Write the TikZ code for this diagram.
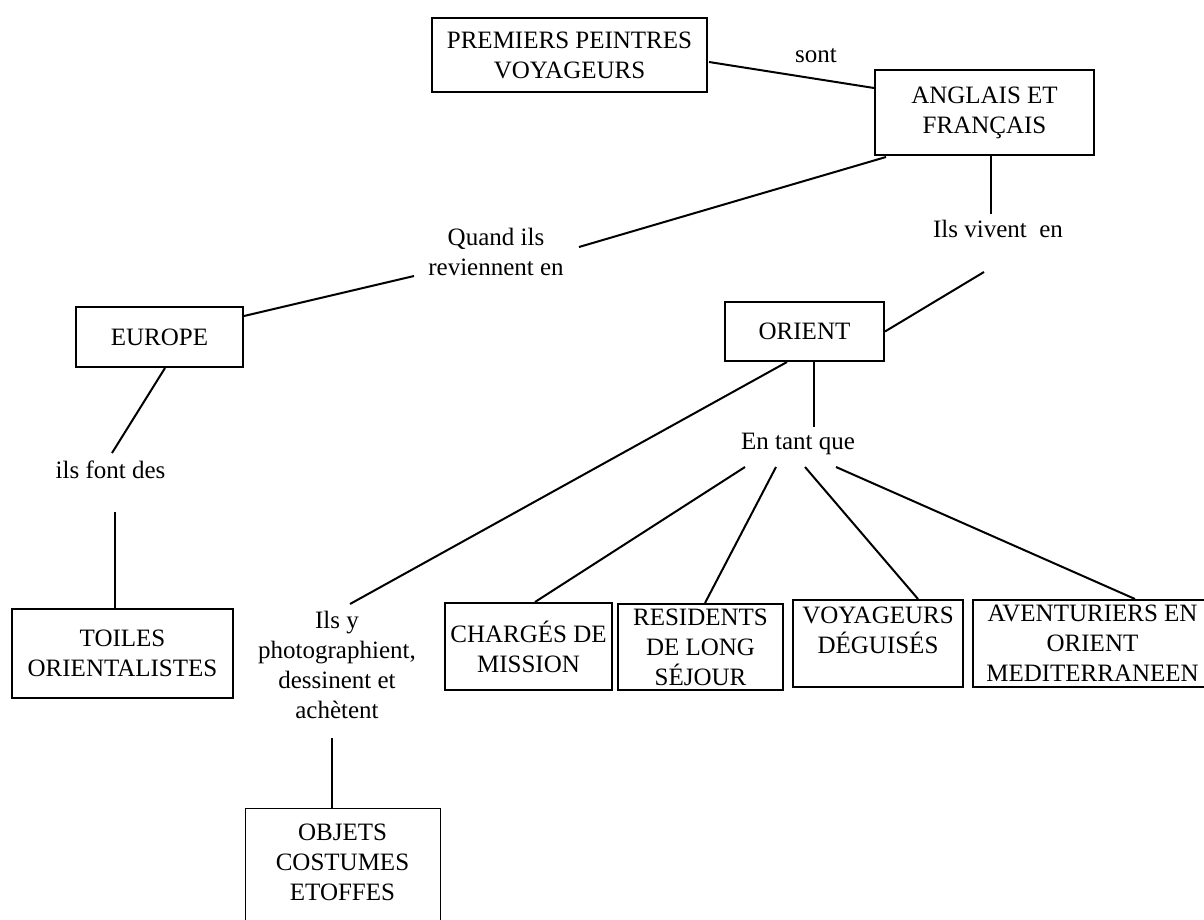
\documentclass[tikz,border=0pt]{standalone}
\usepackage{fontspec}
\setmainfont{Liberation Serif}
\usetikzlibrary{calc}

\begin{document}
\begin{tikzpicture}[x=0.5pt,y=-0.5pt,
  box/.style={rectangle,draw=black,line width=1pt,align=center,inner sep=2pt,font=\fontsize{12.5}{15}\selectfont},
  word/.style={align=center,inner sep=0pt,font=\fontsize{12.5}{15}\selectfont},
  link/.style={line width=1pt}]
\useasboundingbox (0,0) rectangle (1204,920);
%Concept Boxes
\node at (569.5,55) [box,minimum width=137.5pt,minimum height=37pt] (Peintres) {PREMIERS PEINTRES\\VOYAGEURS};
\node at (984.5,112.5) [box,minimum width=109.5pt,minimum height=42.5pt] (Anglais) {ANGLAIS ET\\FRANÇAIS};
\node at (159.5,337) [box,minimum width=83.5pt,minimum height=30pt] (Europe) {EUROPE};
\node at (804.5,331.5) [box,minimum width=79.5pt,minimum height=29.5pt] (Orient) {ORIENT};
\node at (122.5,653.5) [box,minimum width=110.5pt,minimum height=44.5pt] (Toiles) {TOILES\\ORIENTALISTES};
\node at (528.5,646.5) [box,minimum width=83.5pt,minimum height=43.5pt] (Charges) {CHARGÉS DE\\MISSION};
\node at (700.5,647) [box,minimum width=82.5pt,minimum height=43pt] (Residents) {RESIDENTS\\DE LONG\\SÉJOUR};
\node at (878,643.5) [box,minimum width=85pt,minimum height=43.5pt] (Deguises) {VOYAGEURS\\DÉGUISÉS\\[-2pt]\mbox{}};
\node at (1092.5,643.5) [box,minimum width=119.5pt,minimum height=43.5pt] (Aventuriers) {AVENTURIERS EN\\ORIENT\\MEDITERRANEEN};
\node at (342.5,874) [box,line width=.5pt,minimum width=97.5pt,minimum height=66pt] (Objets) {OBJETS\\COSTUMES\\ETOFFES\\[-3pt]\mbox{}};
%Link Words
\node at (816,56) [word] (Sont) {sont};
\node at (496,252) [word] (Quand) {Quand ils\\reviennent en};
\node at (998,229) [word] (Vivent) {Ils vivent\ \ en};
\node at (110.5,470) [word] (Font) {ils font des};
\node at (798,444) [word] (TantQue) {En tant que};
\node at (337,665) [word] (Photo) {Ils y\\photographient,\\dessinent et\\achètent};
%Connections
\draw [link] ($(Peintres.east)+(1,7)$) -- ($(Anglais.west)+(0,-24.5)$);
\draw [link] ($(Anglais.south west)+(12,1)$) -- ($(Quand.center)+(83,-5)$);
\draw [link] ($(Anglais.south)+(6.5,0)$) -- ($(Vivent.center)+(-7,-15)$);
\draw [link] ($(Vivent.center)+(-14,43)$) -- (Orient.east);
\draw [link] ($(Quand.center)+(-82,24)$) -- ($(Europe.north east)+(0,10)$);
\draw [link] ($(Europe.south)+(5.5,0)$) -- ($(Font.center)+(1.5,-17)$);
\draw [link] ($(Font.center)+(4.5,42)$) -- ($(Toiles.north)+(-7.5,0)$);
\draw [link] ($(Orient.south)+(-17.5,0)$) -- ($(Photo.center)+(13,-61)$);
\draw [link] ($(Orient.south)+(9.5,0)$) -- ($(TantQue.center)+(16,-17)$);
\draw [link] ($(TantQue.center)+(-53,23)$) -- ($(Charges.north)+(6.5,0)$);
\draw [link] ($(TantQue.center)+(-22,23)$) -- ($(Residents.north)+(4.5,0)$);
\draw [link] ($(TantQue.center)+(7,23)$) -- ($(Deguises.north)+(40,0)$);
\draw [link] ($(TantQue.center)+(38,23)$) -- ($(Aventuriers.north)+(42.5,0)$);
\draw [link] ($(Photo.center)+(-5,73)$) -- ($(Objets.north)+(-10.5,0)$);
\end{tikzpicture}
\end{document}
